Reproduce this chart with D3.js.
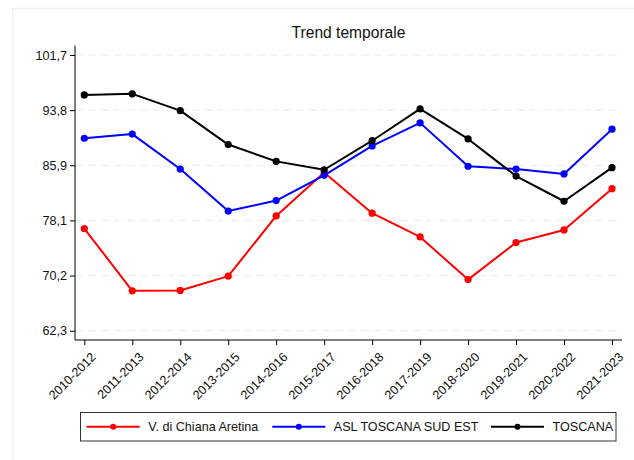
<!DOCTYPE html>
<html>
<head>
<meta charset="utf-8">
<script src="https://cdn.jsdelivr.net/npm/d3@7"></script>
<style>
html,body{margin:0;padding:0;background:#fff;}
svg{display:block;font-family:"Liberation Sans",Arial,sans-serif;}
</style>
</head>
<body>
<svg id="chart" width="634" height="460"></svg>
<script>
const categories = ["2010-2012","2011-2013","2012-2014","2013-2015","2014-2016","2015-2017","2016-2018","2017-2019","2018-2020","2019-2021","2020-2022","2021-2023"];
const chianaValues = [76.9, 68.0, 68.05, 70.1, 78.7, 84.9, 79.1, 75.7, 69.6, 74.9, 76.7, 82.6];
const aslValues = [89.8, 90.4, 85.4, 79.4, 80.9, 84.5, 88.7, 92.0, 85.8, 85.4, 84.7, 91.1];
const toscanaValues = [96.0, 96.15, 93.75, 88.9, 86.5, 85.3, 89.45, 94.0, 89.7, 84.4, 80.8, 85.6];
const seriesNames = ["V. di Chiana Aretina", "ASL TOSCANA SUD EST", "TOSCANA"];
const seriesColors = ["#ff0000", "#0000ff", "#000000"];
const yTickValues = [62.3, 70.18, 78.06, 85.94, 93.82, 101.7];
const yTickLabels = ["62,3", "70,2", "78,1", "85,9", "93,8", "101,7"];
const titleText = "Trend temporale";

const svg = d3.select("#chart");

// outer light frame
svg.append("rect").attr("x", 12.5).attr("y", 8.5).attr("width", 640).attr("height", 470)
  .attr("fill", "#fff").attr("stroke", "#eef2f2").attr("stroke-width", 1.5);

const x = d3.scalePoint().domain(categories).range([84.3, 612]);
const yPxPerUnit = (330.7 - 55) / (101.7 - 62.3);
const y = d3.scaleLinear()
  .domain([62.3 - (340 - 330.7) / yPxPerUnit, 101.7 + (55 - 45.5) / yPxPerUnit])
  .range([340, 45.5]);

const axL = 75, axR = 622, axB = 340, axT = 45.5;
const fs = 12.6;

// gridlines
svg.append("g").selectAll("line").data(yTickValues).join("line")
  .attr("x1", axL).attr("x2", axR)
  .attr("y1", d => y(d)).attr("y2", d => y(d))
  .attr("stroke", "#ebebeb").attr("stroke-width", 1).attr("stroke-dasharray", "8,5");

// title
svg.append("text").attr("x", 348.5).attr("y", 38).attr("text-anchor", "middle")
  .attr("font-size", 15.6).attr("fill", "#111").text(titleText);

// y axis
const yAxis = d3.axisLeft(y).tickValues(yTickValues).tickSize(5).tickPadding(3)
  .tickFormat((d, i) => yTickLabels[i]);
const gy = svg.append("g").attr("transform", `translate(${axL},0)`).call(yAxis);
gy.select(".domain").remove();
gy.append("line").attr("x1", 0).attr("x2", 0).attr("y1", axT).attr("y2", axB)
  .attr("stroke", "#000").attr("stroke-width", 1);
gy.selectAll(".tick line").attr("stroke", "#000");
gy.selectAll(".tick text").attr("font-size", fs).attr("fill", "#111")
  .attr("font-family", "'Liberation Sans',Arial,sans-serif");

// x axis
const xAxis = d3.axisBottom(x).tickSize(5).tickPadding(3);
const gx = svg.append("g").attr("transform", `translate(0,${axB})`).call(xAxis);
gx.select(".domain").remove();
gx.append("line").attr("x1", axL).attr("x2", axR).attr("y1", 0).attr("y2", 0)
  .attr("stroke", "#000").attr("stroke-width", 1);
gx.selectAll(".tick line").attr("stroke", "#000");
gx.selectAll(".tick text").attr("font-size", fs).attr("fill", "#111")
  .attr("font-family", "'Liberation Sans',Arial,sans-serif")
  .attr("text-anchor", "end")
  .attr("dy", "0.35em")
  .attr("transform", "translate(3,9) rotate(-45)");

// series
const allSeries = [chianaValues, aslValues, toscanaValues];
const line = d3.line().x((d, i) => x(categories[i])).y(d => y(d));
allSeries.forEach((vals, si) => {
  const g = svg.append("g");
  g.append("path").datum(vals).attr("d", line).attr("fill", "none")
    .attr("stroke", seriesColors[si]).attr("stroke-width", 2).attr("stroke-linejoin", "round");
  g.selectAll("circle").data(vals).join("circle")
    .attr("cx", (d, i) => x(categories[i])).attr("cy", d => y(d)).attr("r", 3.6)
    .attr("fill", seriesColors[si]);
});

// legend
const lg = svg.append("g");
lg.append("rect").attr("x", 80.5).attr("y", 412.5).attr("width", 535.5).attr("height", 28.5)
  .attr("fill", "#fff").attr("stroke", "#333").attr("stroke-width", 1);
const legendX = [86.7, 272.3, 491];
const ly = 426.7;
seriesNames.forEach((name, i) => {
  const lx = legendX[i];
  lg.append("line").attr("x1", lx).attr("x2", lx + 53).attr("y1", ly).attr("y2", ly)
    .attr("stroke", seriesColors[i]).attr("stroke-width", 2);
  lg.append("circle").attr("cx", lx + 26.5).attr("cy", ly).attr("r", 3).attr("fill", seriesColors[i]);
  lg.append("text").attr("x", lx + 61.5).attr("y", ly).attr("dy", "0.35em")
    .attr("font-size", fs).attr("fill", "#111").text(name);
});
</script>
</body>
</html>
